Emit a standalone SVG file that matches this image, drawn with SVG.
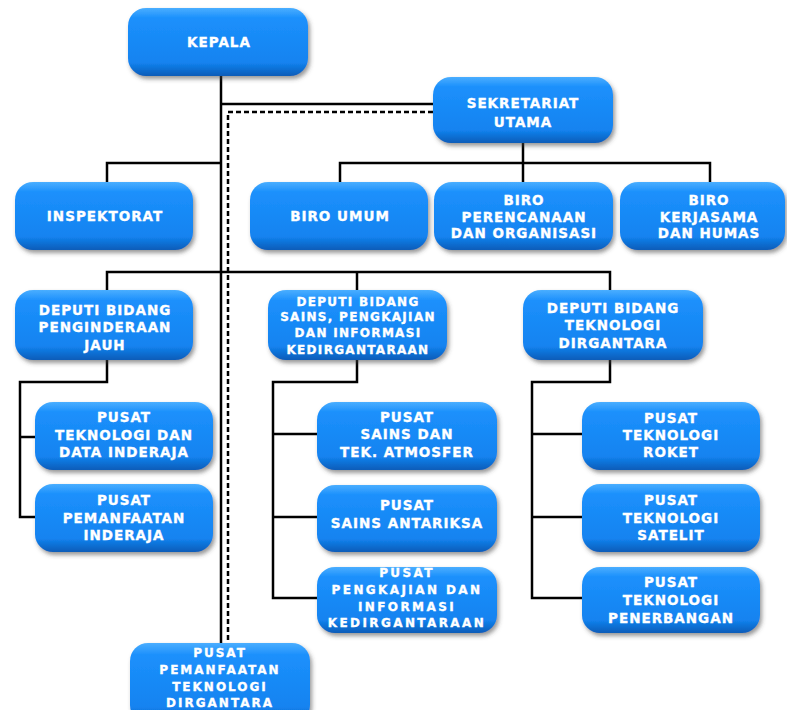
<svg xmlns="http://www.w3.org/2000/svg" width="787" height="710" viewBox="0 0 787 710">
<defs>
<linearGradient id="bg" x1="0" y1="0" x2="0" y2="1">
<stop offset="0" stop-color="#4aaeff"/>
<stop offset="0.15" stop-color="#1c90fc"/>
<stop offset="0.8" stop-color="#1383f0"/>
<stop offset="1" stop-color="#0a5cb8"/>
</linearGradient>
<filter id="sh" x="-10%" y="-10%" width="125%" height="135%">
<feDropShadow dx="2" dy="3" stdDeviation="2" flood-color="#444" flood-opacity="0.55"/>
</filter>
</defs>
<style>
.box{fill:url(#bg);filter:url(#sh);}
.t{font-family:"DejaVu Sans",Verdana,sans-serif;font-weight:bold;fill:#ffffff;stroke:#ffffff;stroke-width:0.35;text-anchor:middle;font-size:13.5px;letter-spacing:1px;}
.s{font-size:12px;letter-spacing:1.3px;}
.xs{font-size:12px;letter-spacing:2.4px;}
.b{font-size:12px;letter-spacing:2px;}
.c{fill:none;stroke:#000;stroke-width:2.5;}
.d{fill:none;stroke:#000;stroke-width:2.5;stroke-dasharray:5 3;}
</style>
<rect width="787" height="710" fill="#ffffff"/>
<g id="connectors">
<path class="c" d="M221 76 V643"/>
<path class="c" d="M221 104 H433"/>
<path class="d" d="M433 112 H228 V643"/>
<path class="c" d="M523 143 V163"/>
<path class="c" d="M340 182 V163 H710 V182"/>
<path class="c" d="M523 163 V182"/>
<path class="c" d="M221 163 H107 V182"/>
<path class="c" d="M107 290 V272 H610 V290"/>
<path class="c" d="M357 272 V290"/>
<path class="c" d="M107 360 V382 H20 V517 H35"/>
<path class="c" d="M20 437 H35"/>
<path class="c" d="M357 360 V382 H273 V598 H317"/>
<path class="c" d="M273 434 H317"/>
<path class="c" d="M273 517 H317"/>
<path class="c" d="M610 360 V382 H532 V598 H582"/>
<path class="c" d="M532 434 H582"/>
<path class="c" d="M532 517 H582"/>
</g>
<g id="kepala"><rect class="box" x="128" y="8" width="180" height="68" rx="18"/><text class="t" x="219" y="47">KEPALA</text></g>
<g id="sekretariat"><rect class="box" x="433" y="77" width="180" height="66" rx="18"/><text class="t" x="523" y="108">SEKRETARIAT</text><text class="t" x="523" y="127">UTAMA</text></g>
<g id="inspektorat"><rect class="box" x="15" y="182" width="178" height="68" rx="18"/><text class="t" x="105" y="221">INSPEKTORAT</text></g>
<g id="biro-umum"><rect class="box" x="250" y="182" width="178" height="68" rx="18"/><text class="t" x="340" y="221">BIRO UMUM</text></g>
<g id="biro-perencanaan"><rect class="box" x="434" y="182" width="179" height="68" rx="18"/><text class="t" x="524" y="205">BIRO</text><text class="t" x="524" y="222">PERENCANAAN</text><text class="t" x="524" y="238">DAN ORGANISASI</text></g>
<g id="biro-kerjasama"><rect class="box" x="620" y="182" width="165" height="68" rx="18"/><text class="t" x="709" y="205">BIRO</text><text class="t" x="709" y="222">KERJASAMA</text><text class="t" x="709" y="238">DAN HUMAS</text></g>
<g id="deputi-penginderaan"><rect class="box" x="15" y="290" width="178" height="70" rx="18"/><text class="t" x="105" y="315">DEPUTI BIDANG</text><text class="t" x="105" y="332">PENGINDERAAN</text><text class="t" x="105" y="350">JAUH</text></g>
<g id="deputi-sains"><rect class="box" x="268" y="290" width="179" height="70" rx="18"/><text class="t s" x="358" y="306">DEPUTI BIDANG</text><text class="t s" x="358" y="321">SAINS, PENGKAJIAN</text><text class="t s" x="358" y="337">DAN INFORMASI</text><text class="t s" x="358" y="354">KEDIRGANTARAAN</text></g>
<g id="deputi-teknologi"><rect class="box" x="523" y="290" width="180" height="70" rx="18"/><text class="t" x="613" y="313">DEPUTI BIDANG</text><text class="t" x="613" y="330">TEKNOLOGI</text><text class="t" x="613" y="348">DIRGANTARA</text></g>
<g id="pusat-data-inderaja"><rect class="box" x="35" y="402" width="178" height="68" rx="18"/><text class="t" x="124" y="422">PUSAT</text><text class="t" x="124" y="440">TEKNOLOGI DAN</text><text class="t" x="124" y="457">DATA INDERAJA</text></g>
<g id="pusat-pemanfaatan-inderaja"><rect class="box" x="35" y="484" width="178" height="68" rx="18"/><text class="t" x="124" y="505">PUSAT</text><text class="t" x="124" y="523">PEMANFAATAN</text><text class="t" x="124" y="540">INDERAJA</text></g>
<g id="pusat-atmosfer"><rect class="box" x="317" y="402" width="180" height="68" rx="18"/><text class="t" x="407" y="422">PUSAT</text><text class="t" x="407" y="439">SAINS DAN</text><text class="t" x="407" y="457">TEK. ATMOSFER</text></g>
<g id="pusat-antariksa"><rect class="box" x="317" y="485" width="180" height="67" rx="18"/><text class="t" x="407" y="510">PUSAT</text><text class="t" x="407" y="528">SAINS ANTARIKSA</text></g>
<g id="pusat-pengkajian"><rect class="box" x="317" y="567" width="180" height="66" rx="18"/><text class="t xs" x="407" y="577">PUSAT</text><text class="t xs" x="407" y="594">PENGKAJIAN DAN</text><text class="t xs" x="407" y="611">INFORMASI</text><text class="t xs" x="407" y="627">KEDIRGANTARAAN</text></g>
<g id="pusat-roket"><rect class="box" x="582" y="402" width="178" height="68" rx="18"/><text class="t" x="671" y="423">PUSAT</text><text class="t" x="671" y="440">TEKNOLOGI</text><text class="t" x="671" y="457">ROKET</text></g>
<g id="pusat-satelit"><rect class="box" x="582" y="484" width="178" height="68" rx="18"/><text class="t" x="671" y="505">PUSAT</text><text class="t" x="671" y="523">TEKNOLOGI</text><text class="t" x="671" y="540">SATELIT</text></g>
<g id="pusat-penerbangan"><rect class="box" x="582" y="567" width="178" height="66" rx="18"/><text class="t" x="671" y="587">PUSAT</text><text class="t" x="671" y="605">TEKNOLOGI</text><text class="t" x="671" y="623">PENERBANGAN</text></g>
<g id="pusat-pemanfaatan-dirgantara"><rect class="box" x="130" y="643" width="180" height="80" rx="18"/><text class="t b" x="220" y="657">PUSAT</text><text class="t b" x="220" y="674">PEMANFAATAN</text><text class="t b" x="220" y="691">TEKNOLOGI</text><text class="t b" x="220" y="707">DIRGANTARA</text></g>
</svg>
